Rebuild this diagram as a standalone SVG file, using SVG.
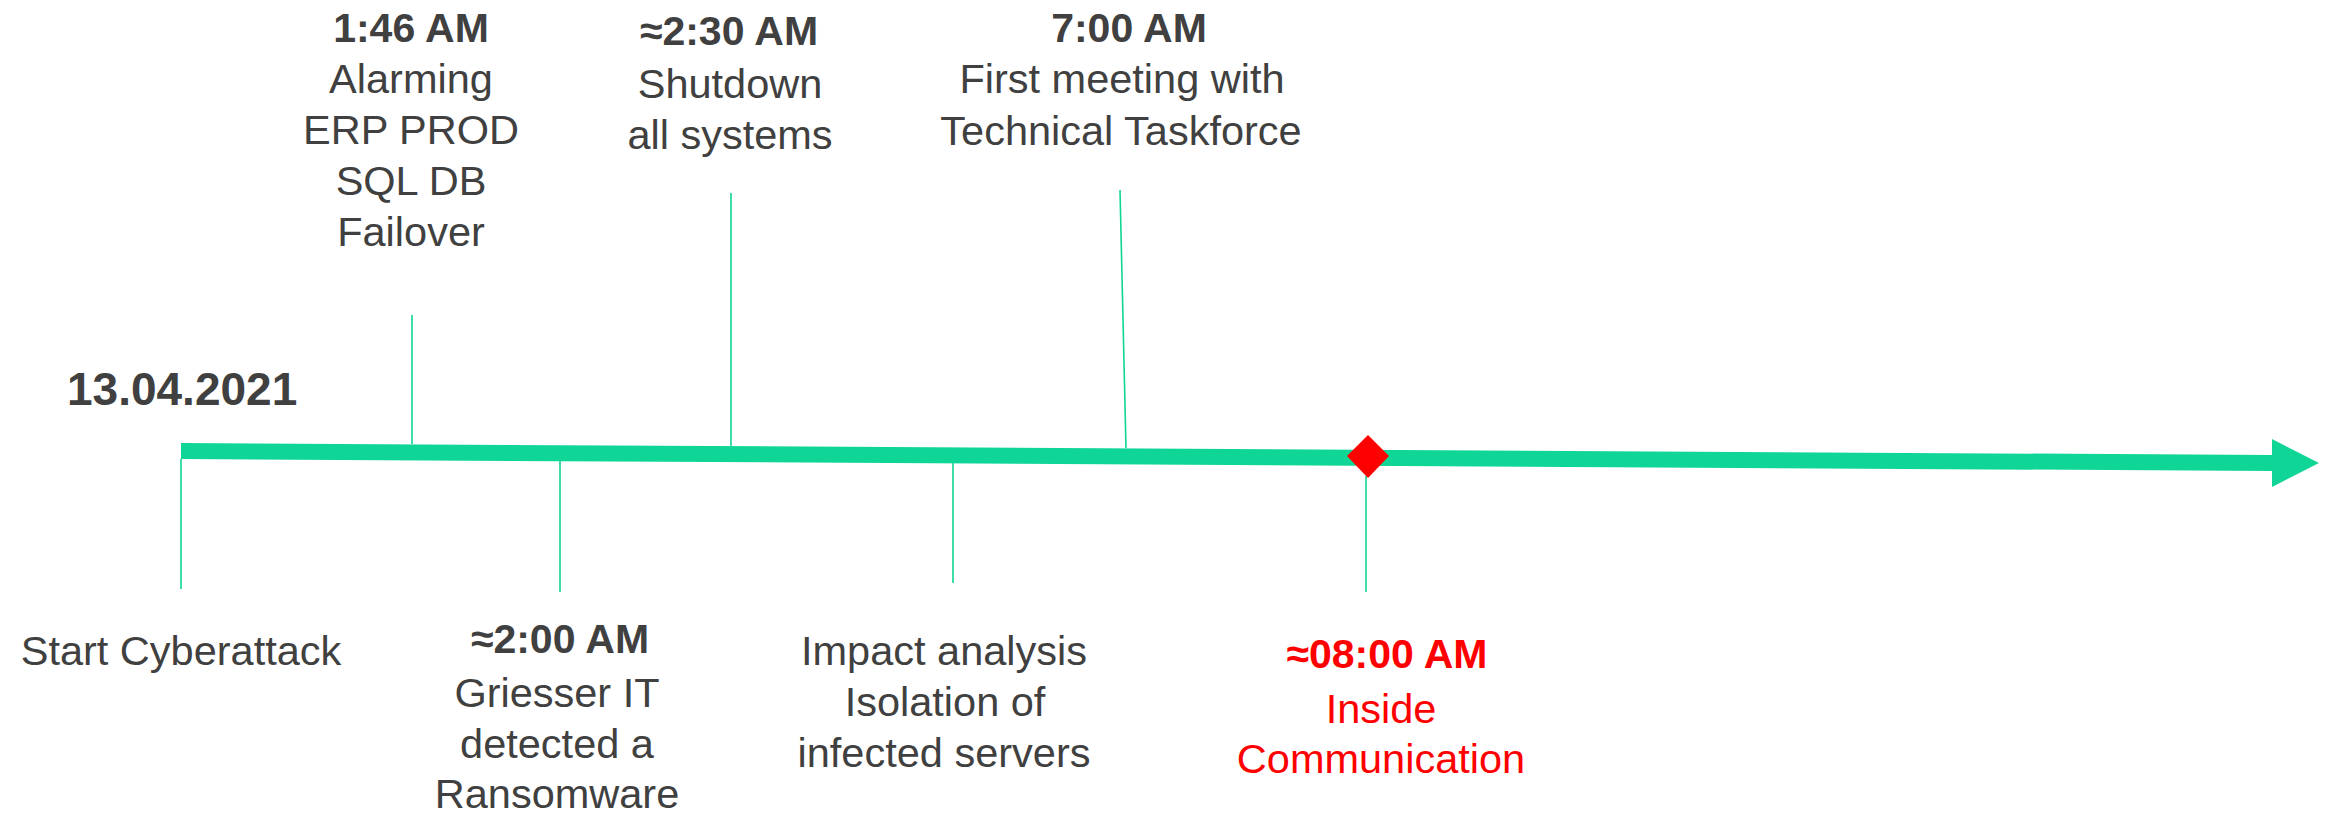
<svg xmlns="http://www.w3.org/2000/svg" width="2331" height="814" viewBox="0 0 2331 814">
<style>
.t{font-family:"Liberation Sans",Arial,sans-serif;font-size:41.5px;fill:#404040;text-anchor:middle}
.b{font-weight:bold;font-size:41px}
.r{fill:#ff0000}
.tick{stroke:#0fd597;stroke-width:1.6;fill:none}
</style>
<rect width="2331" height="814" fill="#ffffff"/>
<g id="connectors">
<polygon id="timeline" fill="#0fd597" points="181,443 2272,455 2272,439 2319,463 2272,487 2272,471 181,459"/>
<line class="tick" x1="181" y1="459" x2="181" y2="589"/>
<line class="tick" x1="412" y1="315" x2="412" y2="444"/>
<line class="tick" x1="560" y1="461" x2="560" y2="592"/>
<line class="tick" x1="731" y1="193" x2="731" y2="446"/>
<line class="tick" x1="953" y1="463" x2="953" y2="583"/>
<line class="tick" x1="1120" y1="190" x2="1126" y2="448"/>
<line class="tick" x1="1366" y1="476" x2="1366" y2="592"/>
</g>
<g id="date"><text class="t b" x="67" y="405" style="text-anchor:start;font-size:46px">13.04.2021</text></g>
<g id="n-start"><text class="t" x="181" y="665">Start Cyberattack</text></g>
<g id="n-146">
<text class="t b" x="411" y="42">1:46 AM</text>
<text class="t" x="411" y="93">Alarming</text>
<text class="t" x="411" y="144">ERP PROD</text>
<text class="t" x="411" y="195">SQL DB</text>
<text class="t" x="411" y="246">Failover</text>
</g>
<g id="n-200">
<text class="t b" x="560" y="653">≈2:00 AM</text>
<text class="t" x="557" y="707">Griesser IT</text>
<text class="t" x="557" y="758">detected a</text>
<text class="t" x="557" y="808">Ransomware</text>
</g>
<g id="n-230">
<text class="t b" x="729" y="45">≈2:30 AM</text>
<text class="t" x="730" y="98">Shutdown</text>
<text class="t" x="730" y="149">all systems</text>
</g>
<g id="n-impact">
<text class="t" x="944" y="665">Impact analysis</text>
<text class="t" x="945" y="716">Isolation of</text>
<text class="t" x="944" y="767">infected servers</text>
</g>
<g id="n-700">
<text class="t b" x="1129" y="42">7:00 AM</text>
<text class="t" x="1122" y="93">First meeting with</text>
<text class="t" x="1121" y="145">Technical Taskforce</text>
</g>
<g id="n-800">
<polygon fill="#ff0000" points="1368,435 1389,456 1368,478 1347,456"/>
<text class="t b r" x="1387" y="668">≈08:00 AM</text>
<text class="t r" x="1381" y="723">Inside</text>
<text class="t r" x="1381" y="773">Communication</text>
</g>
</svg>
